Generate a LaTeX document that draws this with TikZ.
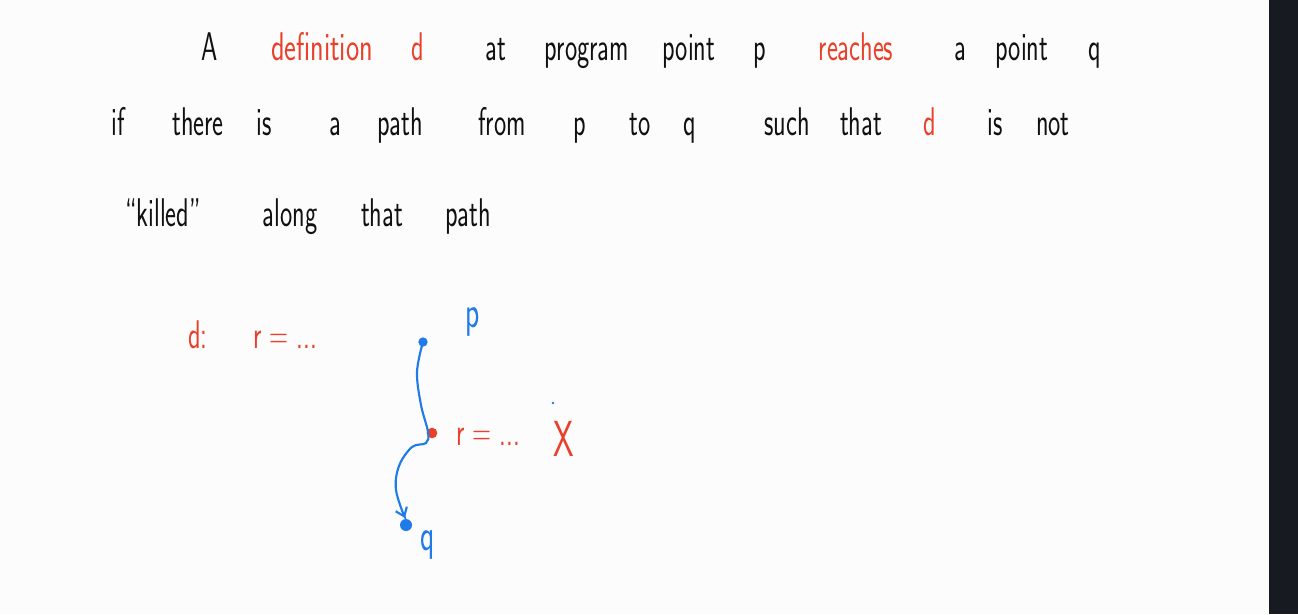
\documentclass[tikz,border=0pt]{standalone}
\usetikzlibrary{arrows.meta}
\definecolor{bg}{HTML}{FCFCFC}
\definecolor{bar}{HTML}{181A21}
\definecolor{ink}{HTML}{111111}
\definecolor{hred}{HTML}{E8402A}
\definecolor{hblue}{HTML}{1F7BE8}
\tikzset{
  word/.style={anchor=base, inner sep=0pt, font=\sffamily\fontsize{30}{30}\selectfont, xscale=0.65, text=ink},
  rword/.style={word, text=hred},
  bword/.style={word, text=hblue},
  dot/.style={circle, fill=#1, inner sep=0pt, minimum size=7pt},
  flow/.style={draw=hblue, line width=1.6pt, line cap=round, -{Straight Barb[length=6pt,width=9pt]}}
}
\begin{document}
\begin{tikzpicture}[x=0.75pt,y=-0.75pt]
\fill[bg] (0,0) rectangle (1298,614);
\fill[bar] (1269,0) rectangle (1298,614);
\useasboundingbox (0,0) rectangle (1298,614);
% line 1
\node[word]  (w1a) at (210,60) {A};
\node[rword, xscale=1.08] (w1b) at (322,60) {definition};
\node[rword] (w1c) at (418,60) {d};
\node[word]  (w1d) at (496,60) {at};
\node[word]  (w1e) at (587,60) {program};
\node[word]  (w1f) at (689,60) {point};
\node[word]  (w1g) at (760,60) {p};
\node[rword] (w1h) at (856,60) {reaches};
\node[word]  (w1i) at (960,60) {a};
\node[word]  (w1j) at (1022,60) {point};
\node[word]  (w1k) at (1095,60) {q};
% line 2
\node[word]  (w2a) at (118,135) {if};
\node[word]  (w2b) at (198,135) {there};
\node[word]  (w2c) at (264,135) {is};
\node[word]  (w2d) at (335,135) {a};
\node[word]  (w2e) at (400,135) {path};
\node[word]  (w2f) at (502,135) {from};
\node[word]  (w2g) at (580,135) {p};
\node[word]  (w2h) at (640,135) {to};
\node[word]  (w2i) at (690,135) {q};
\node[word]  (w2j) at (787,135) {such};
\node[word]  (w2k) at (861,135) {that};
\node[rword] (w2l) at (930,135) {d};
\node[word]  (w2m) at (995,135) {is};
\node[word]  (w2n) at (1053,135) {not};
% line 3
\node[word]  (w3a) at (163,226) {``killed''};
\node[word]  (w3b) at (290,226) {along};
\node[word]  (w3c) at (382,226) {that};
\node[word]  (w3d) at (468,226) {path};
% diagram
\node[rword] (dd) at (198,348) {d:};
\node[rword] (dr) at (285,348) {r = ...};
\node[bword, font=\sffamily\fontsize{34}{34}\selectfont] (pl) at (473,327) {p};
\node[dot=hblue] (pd) at (423,342) {};
\node[dot=hred, minimum size=8pt] (kd) at (432,433) {};
\node[rword] (kr) at (488,445) {r = ...};
\node[rword, font=\sffamily\fontsize{38}{38}\selectfont] (kx) at (564,456) {X};
\node[dot=hblue, minimum size=2pt] (sd) at (553,403) {};
\node[dot=hblue, minimum size=9pt] (qd) at (406,525) {};
\node[bword, font=\sffamily\fontsize{34}{34}\selectfont] (ql) at (428,550) {q};
\draw[flow] plot[smooth, tension=0.6] coordinates {(pd.center) (417,372) (421,405) (428,432) (426,443) (412,447) (399,466) (396,490) (405,518)};
\end{tikzpicture}
\end{document}
